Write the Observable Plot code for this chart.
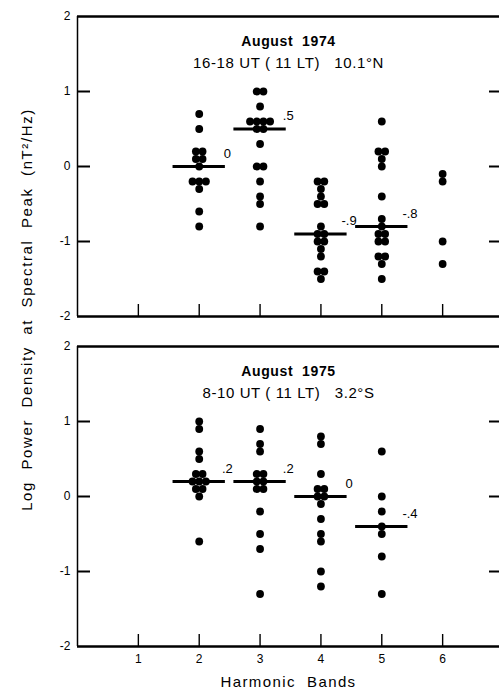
<!DOCTYPE html>
<html>
<head>
<meta charset="utf-8">
<script src="https://cdn.jsdelivr.net/npm/d3@7"></script>
<script src="https://cdn.jsdelivr.net/npm/@observablehq/plot@0.6"></script>
<style>
  html, body { margin: 0; padding: 0; background: #fff; }
  #chart svg text { white-space: pre; }
</style>
</head>
<body>
<div id="chart"></div>
<script>
// Harmonic bands and axis ticks
const bands = [1, 2, 3, 4, 5, 6];
const yTicks = [2, 1, 0, -1, -2];
const innerTicks = [1, 0, -1];
const years = [1974, 1975];

// Panel headings
const headingLine1 = ["August  1974", "August  1975"];
const headingLine2 = ["16-18 UT ( 11 LT)   10.1°N", "8-10 UT ( 11 LT)   3.2°S"];

// Log power density at the spectral peak, August 1974 (16-18 UT, 10.1°N)
const band2_1974 = [0.7, 0.5, 0.2, 0.2, 0.1, 0.1, 0.0, -0.2, -0.2, -0.2, -0.3, -0.6, -0.8];
const band3_1974 = [1.0, 1.0, 0.8, 0.6, 0.6, 0.6, 0.6, 0.5, 0.5, 0.3, 0.0, 0.0, -0.2, -0.4, -0.5, -0.8];
const band4_1974 = [-0.2, -0.2, -0.3, -0.4, -0.5, -0.5, -0.8, -0.9, -0.9, -1.0, -1.0, -1.1, -1.2, -1.4, -1.4, -1.5];
const band5_1974 = [0.6, 0.2, 0.2, 0.1, 0.0, -0.4, -0.7, -0.8, -0.9, -0.9, -1.0, -1.0, -1.2, -1.2, -1.3, -1.5];
const band6_1974 = [-0.1, -0.2, -1.0, -1.3];

// Log power density at the spectral peak, August 1975 (8-10 UT, 3.2°S)
const band2_1975 = [1.0, 0.9, 0.6, 0.5, 0.3, 0.3, 0.2, 0.2, 0.2, 0.1, 0.1, 0.0, -0.6];
const band3_1975 = [0.9, 0.7, 0.6, 0.3, 0.3, 0.2, 0.2, 0.1, 0.1, -0.2, -0.5, -0.7, -1.3];
const band4_1975 = [0.8, 0.7, 0.3, 0.1, 0.1, 0.0, 0.0, -0.1, -0.3, -0.5, -0.6, -1.0, -1.2];
const band5_1975 = [0.6, 0.0, -0.2, -0.4, -0.5, -0.8, -1.3];

// Median of each band
const medianBands = [2, 3, 4, 5];
const medians1974 = [0, 0.5, -0.9, -0.8];
const medians1975 = [0.2, 0.2, 0, -0.4];

// Build the point table; equal values within a band sit side by side
const spread = 0.11;
function addBand(rows, year, band, values) {
  const groups = d3.group(values, v => v);
  for (const [v, list] of groups) {
    list.forEach((_, i) => {
      rows.push({year, band, value: v, x: band + (i - (list.length - 1) / 2) * spread});
    });
  }
}
const points = [];
addBand(points, 1974, 2, band2_1974);
addBand(points, 1974, 3, band3_1974);
addBand(points, 1974, 4, band4_1974);
addBand(points, 1974, 5, band5_1974);
addBand(points, 1974, 6, band6_1974);
addBand(points, 1975, 2, band2_1975);
addBand(points, 1975, 3, band3_1975);
addBand(points, 1975, 4, band4_1975);
addBand(points, 1975, 5, band5_1975);

const halfWidth = 0.43;
const medianRows = [
  ...medianBands.map((b, i) => ({year: 1974, band: b, m: medians1974[i]})),
  ...medianBands.map((b, i) => ({year: 1975, band: b, m: medians1975[i]}))
];
const fmtMedian = v => v === 0 ? "0" : (v < 0 ? "-" : "") + "." + Math.round(Math.abs(v) * 10);
const fmtTick = v => v < 0 ? "-" + (-v) : String(v);

const headings = years.map((year, i) => ({year, line1: headingLine1[i], line2: headingLine2[i]}));
const xTitle = "Harmonic  Bands";
const yTitle = "Log  Power  Density  at  Spectral  Peak  (nT²/Hz)";

const chart = Plot.plot({
  width: 499,
  height: 690,
  marginTop: 16,
  marginBottom: 43,
  marginLeft: 77,
  marginRight: 0,
  style: {fontFamily: "'Liberation Sans', Arial, sans-serif", fontSize: "12px", color: "#000", background: "#fff"},
  x: {domain: [0, 7], range: [77, 503]},
  y: {domain: [-2, 2]},
  fy: {domain: years, axis: null, paddingInner: 0.0908, paddingOuter: 0},
  marks: [
    // frame: heavy top and bottom edges, light left edge
    Plot.ruleY([2, -2], {stroke: "#000", strokeWidth: 2.5}),
    Plot.ruleX([0], {x: d => d, stroke: "#000", strokeWidth: 1.5}),
    // inward ticks
    Plot.ruleY(innerTicks, {stroke: "#000", strokeWidth: 2, insetRight: 409}),
    Plot.ruleY(innerTicks, {stroke: "#000", strokeWidth: 2, insetLeft: 412}),
    Plot.ruleX(bands, {stroke: "#000", strokeWidth: 1.4, insetTop: 288}),
    Plot.axisY({ticks: yTicks, tickSize: 0, tickPadding: 7, tickFormat: fmtTick, fontSize: 12, label: null}),
    Plot.axisX({ticks: bands, tickSize: 0, tickPadding: 8, tickFormat: d3.format("d"), fontSize: 12, label: null}),
    // observations
    Plot.dot(points, {x: "x", y: "value", fy: "year", r: 3.9, fill: "#000", stroke: "none"}),
    // medians
    Plot.ruleY(medianRows, {y: "m", x1: d => d.band - halfWidth, x2: d => d.band + halfWidth, fy: "year", stroke: "#000", strokeWidth: 3}),
    Plot.text(medianRows, {x: d => d.band + halfWidth, y: "m", fy: "year", text: d => fmtMedian(d.m), dx: 2, dy: -13, fontSize: 13}),
    // headings
    Plot.text(headings, {fy: "year", frameAnchor: "top", text: "line1", dy: 25, fontSize: 14, fontWeight: "bold", lineAnchor: "middle"}),
    Plot.text(headings, {fy: "year", frameAnchor: "top", text: "line2", dy: 47, fontSize: 15, lineAnchor: "middle"}),
    // axis titles
    Plot.text([{year: 1975}], {fy: "year", frameAnchor: "bottom", text: () => xTitle, dy: 36, fontSize: 15, lineAnchor: "middle"}),
    Plot.text([{year: 1974}], {fy: "year", frameAnchor: "bottom-left", text: () => yTitle, dx: -50, dy: -7, rotate: -90, fontSize: 15, lineAnchor: "middle", textAnchor: "middle"})
  ]
});

// wider letter spacing on the titles
d3.select(chart).selectAll("text")
  .filter(function () { return this.textContent === yTitle; })
  .style("letter-spacing", "1.6px");
d3.select(chart).selectAll("text")
  .filter(function () { return this.textContent === xTitle; })
  .style("letter-spacing", "1.4px");
d3.select(chart).selectAll("text")
  .filter(function () { return headingLine1.includes(this.textContent) || headingLine2.includes(this.textContent); })
  .style("letter-spacing", "0.6px");

document.getElementById("chart").appendChild(chart);
</script>
</body>
</html>
